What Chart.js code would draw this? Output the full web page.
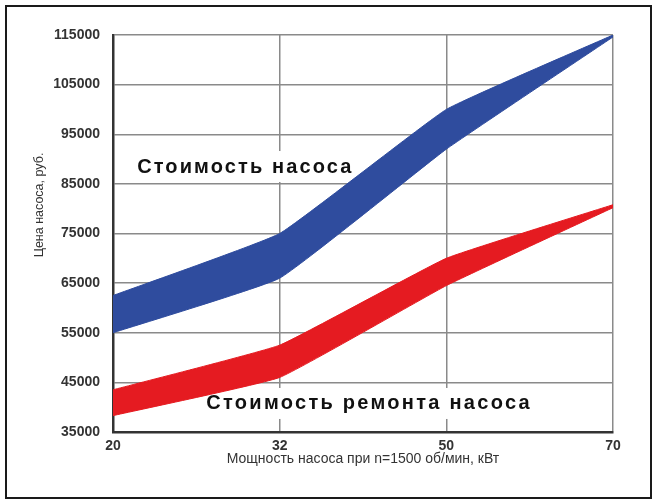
<!DOCTYPE html>
<html>
<head>
<meta charset="utf-8">
<script src="https://cdn.jsdelivr.net/npm/chart.js@4.4.1/dist/chart.umd.min.js"></script>
<style>
  html, body { margin: 0; padding: 0; background: #fff; }
  #wrap { position: relative; width: 656px; height: 500px; }
  #frame { position: absolute; left: 5px; top: 5px; width: 643px; height: 490px; border: 2px solid #1a1a1a; pointer-events: none; }
</style>
</head>
<body>
<div id="wrap">
  <canvas id="pumpChart" width="656" height="500"></canvas>
  <div id="frame"></div>
</div>
<script>
// мощность насоса, кВт
var powerLabels = ['20', '32', '50', '70'];
// стоимость насоса (верх / низ полосы)
var pumpHigh = [62500, 75000, 100000, 115000];
var pumpLow = [55000, 66000, 92000, 114600];
// стоимость ремонта (верх / низ полосы)
var repairHigh = [43500, 52500, 70000, 80800];
var repairLow = [38300, 46000, 64500, 80200];
var yMin = 35000, yMax = 115000, yStep = 10000;

var bandNotes = [
    { text: 'Стоимость насоса', from: 0.145, to: 1.43, value: 88600 },
    { text: 'Стоимость ремонта насоса', from: 0.56, to: 2.5, value: 40850 }
];
var yTitle = 'Цена насоса, руб.';

var blue = '#2f4c9e';
var red = '#e51b21';
var noteFont = 'bold 20px "Liberation Sans", Arial, sans-serif';

function notePos(chart, n) {
    var xs = chart.scales.x, ys = chart.scales.y;
    return { x1: xs.getPixelForValue(n.from), x2: xs.getPixelForValue(n.to), y: ys.getPixelForValue(n.value) };
}

var notesPlugin = {
    id: 'notes',
    // белая подложка только поверх сетки, полосы рисуются над ней
    beforeDatasetsDraw: function(chart) {
        var ctx = chart.ctx;
        ctx.save();
        ctx.fillStyle = '#fff';
        bandNotes.forEach(function(n) {
            var p = notePos(chart, n);
            ctx.fillRect(p.x1 - 5, p.y - 15, p.x2 - p.x1 + 10, 31);
        });
        ctx.restore();
    },
    afterDatasetsDraw: function(chart) {
        var ctx = chart.ctx;
        ctx.save();
        ctx.font = noteFont;
        ctx.textBaseline = 'middle';
        ctx.textAlign = 'left';
        bandNotes.forEach(function(n) {
            var p = notePos(chart, n);
            ctx.letterSpacing = '0px';
            var w = ctx.measureText(n.text).width;
            var sp = (p.x2 - p.x1 - w) / (n.text.length - 1);
            ctx.letterSpacing = sp.toFixed(2) + 'px';
            ctx.fillStyle = '#111';
            ctx.fillText(n.text, p.x1, p.y + 1);
        });
        ctx.letterSpacing = '0px';
        // подпись оси Y
        ctx.translate(40, 205);
        ctx.rotate(-Math.PI / 2);
        ctx.textAlign = 'center';
        ctx.font = '12.5px "Liberation Sans", Arial, sans-serif';
        ctx.fillStyle = '#333';
        ctx.fillText(yTitle, 0, 0);
        ctx.restore();
    }
};

var ctx = document.getElementById('pumpChart').getContext('2d');

var pumpChart = new Chart(ctx, {
    type: 'line',
    data: {
        labels: powerLabels,
        datasets: [
            { label: 'pumpHigh', data: pumpHigh, borderColor: blue, backgroundColor: blue, fill: '+1', borderWidth: 1, pointRadius: 0, tension: 0.1 },
            { label: 'pumpLow', data: pumpLow, borderColor: blue, backgroundColor: blue, fill: false, borderWidth: 1, pointRadius: 0, tension: 0.1 },
            { label: 'repairHigh', data: repairHigh, borderColor: red, backgroundColor: red, fill: '+1', borderWidth: 1, pointRadius: 0, tension: 0.1 },
            { label: 'repairLow', data: repairLow, borderColor: red, backgroundColor: red, fill: false, borderWidth: 1, pointRadius: 0, tension: 0.1 }
        ]
    },
    options: {
        responsive: false,
        animation: false,
        layout: { padding: { left: 0, top: 35, right: 43, bottom: 0 } },
        plugins: {
            legend: { display: false },
            tooltip: { enabled: false }
        },
        scales: {
            x: {
                grid: { color: '#8a8a8a', lineWidth: 1.5, drawTicks: false },
                border: { color: '#333', width: 2.5 },
                ticks: { color: '#333', padding: 6, font: { family: '"Liberation Sans", Arial, sans-serif', size: 14, weight: 'bold' } },
                title: {
                    display: true,
                    text: 'Мощность насоса при n=1500 об/мин, кВт',
                    color: '#333',
                    font: { family: '"Liberation Sans", Arial, sans-serif', size: 14 },
                    padding: { top: 0, bottom: 32 }
                },
                afterFit: function(scale) { scale.height = 68; }
            },
            y: {
                min: yMin,
                max: yMax,
                grid: { color: '#8a8a8a', lineWidth: 1.5, drawTicks: false },
                border: { color: '#333', width: 2.5 },
                ticks: {
                    stepSize: yStep,
                    color: '#333',
                    padding: 13,
                    font: { family: '"Liberation Sans", Arial, sans-serif', size: 14, weight: 'bold' },
                    callback: function(v) { return String(v); }
                },
                afterFit: function(scale) { scale.width = 113; }
            }
        }
    },
    plugins: [notesPlugin]
});
</script>
</body>
</html>
